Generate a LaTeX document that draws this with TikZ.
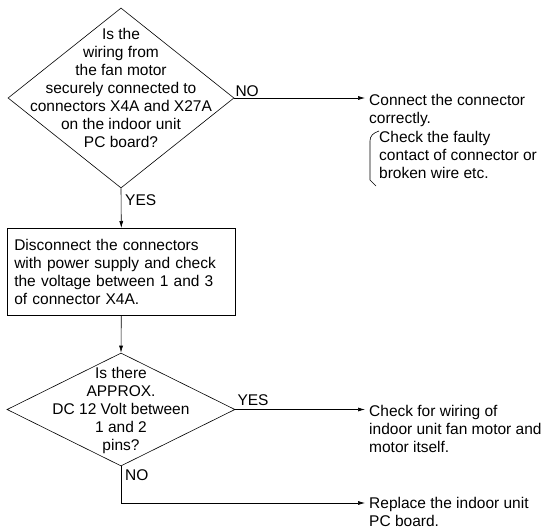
\documentclass[tikz,border=0pt]{standalone}
\usepackage{fontspec}
\setmainfont{Liberation Sans}
\usetikzlibrary{shapes.geometric,arrows.meta}
\begin{document}
\begin{tikzpicture}[x=1pt,y=-1pt,
  every node/.style={font=\fontsize{15.5}{18}\selectfont},
  dia/.style={diamond,draw,line width=0.6pt,inner sep=0pt},
  txt/.style={align=center,inner sep=0pt},
  msg/.style={align=left,anchor=north west,inner xsep=4pt,inner ysep=0pt},
  lbl/.style={inner sep=0pt},
  arr/.style={line width=0.6pt,-{Latex[length=7pt,width=4pt]}},
  ln/.style={line width=0.6pt}]
\useasboundingbox (0,0) rectangle (548,529);
% first decision
\node[dia,minimum width=226pt,minimum height=180pt] (d1) at (121,98) {};
\node[txt] (t1) at (121,88) {Is the\\wiring from\\the fan motor\\securely connected to\\connectors X4A and X27A\\on the indoor unit\\PC board?};
% box
\node[draw,line width=0.6pt,anchor=north west,minimum width=228pt,minimum height=87pt,
  text width=214pt,align=left,inner xsep=7pt,inner ysep=0pt] (b) at (7,228)
  {Disconnect the connectors\\with power supply and check\\the voltage between 1 and 3\\of connector X4A.};
% second decision
\node[dia,minimum width=228pt,minimum height=113pt] (d2) at (121,409.5) {};
\node[txt] (t2) at (121,410.5) {Is there\\APPROX.\\DC 12 Volt between\\1 and 2\\pins?};
% messages
\node[msg] (r1) at (365,94.5) {Connect the connector\\correctly.};
\node[msg,inner xsep=0pt] (r1b) at (379,131) {Check the faulty\\contact of connector or\\broken wire etc.};
\node[msg] (r2) at (365,405.5) {Check for wiring of\\indoor unit fan motor and\\motor itself.};
\node[msg] (r3) at (365,497.5) {Replace the indoor unit\\PC board.};
% bracket
\draw[ln] (379,131) .. controls (373,133) and (370,136) .. (370,141) -- (370,180) -- (376,186);
% connectors
\draw[arr] (d1.east) -- (d1.east -| r1.west);
\draw[arr] (d1.south) -- (b.north);
\draw[arr] (b.south) -- (d2.north);
\draw[arr] (d2.east) -- (d2.east -| r2.west);
\coordinate (k) at (121,503);
\draw[arr] (d2.south) -- (k) -- (k -| r3.west);
% labels
\node[lbl,anchor=base west] (no1) at ([xshift=1pt,yshift=1.5pt]d1.east) {NO};
\node[lbl,anchor=west] (yes1) at (125,200) {YES};
\node[lbl,anchor=base west] (yes2) at ([xshift=2pt,yshift=4pt]d2.east) {YES};
\node[lbl,anchor=west] (no2) at (125,475) {NO};
\end{tikzpicture}
\end{document}
